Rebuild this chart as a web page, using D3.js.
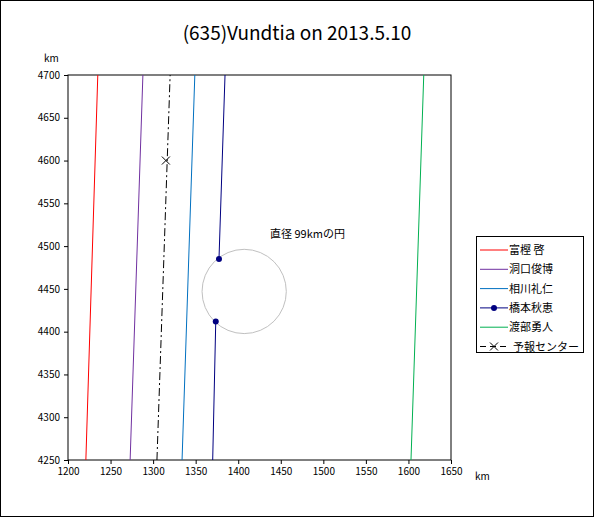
<!DOCTYPE html><html><head><meta charset="utf-8"><script src="https://cdn.jsdelivr.net/npm/d3@7"></script>
<style>body{margin:0;background:#fff}text{font-family:"Noto Sans CJK JP",sans-serif}</style></head><body><svg width="594" height="517"></svg><script>
const names=["富樫 啓","洞口俊博","相川礼仁","橋本秋恵","渡部勇人","予報センター"];
const colors=["#ff0000","#7030a0","#0070c0","#000080","#00b050","#000000"];
// each observer line: [x at y=4250, x at y=4700]
const lineX=[[1221,1235],[1273,1288],[1334,1349],[1370,1384.5],[1603,1618],[1304.5,1320]];
const lineY=[4250,4700];
const navyPts=[[1377.4,4485],[1373.6,4412]];
const center=[[1315,4600]];
const circle={cx:1407,cy:4447,r:49.5};
const xTicks=d3.range(1200,1651,50), yTicks=d3.range(4250,4701,50);
const svg=d3.select("svg");
svg.append("rect").attr("x",0.5).attr("y",0.5).attr("width",593).attr("height",516).attr("fill","#fff").attr("stroke","#000");
const x=d3.scaleLinear().domain([1200,1650]).range([68,451]);
const y=d3.scaleLinear().domain([4250,4700]).range([460,75]);
svg.append("rect").attr("x",68).attr("y",75).attr("width",383).attr("height",385).attr("fill","none").attr("stroke","#000");
const ax=svg.append("g").attr("transform","translate(0,460)").call(d3.axisBottom(x).tickValues(xTicks).tickFormat(d3.format("d")).tickSize(4).tickPadding(4));
const ay=svg.append("g").attr("transform","translate(68,0)").call(d3.axisLeft(y).tickValues(yTicks).tickFormat(d3.format("d")).tickSize(4).tickPadding(4));
[ax,ay].forEach(a=>{a.select(".domain").remove();a.selectAll("text").attr("font-size",10).attr("font-family","Noto Sans CJK JP");});
svg.append("text").attr("x",297).attr("y",40).attr("text-anchor","middle").attr("font-size",19).text("(635)Vundtia on 2013.5.10");
svg.append("text").attr("x",44).attr("y",62).attr("font-size",10).text("km");
svg.append("text").attr("x",475).attr("y",480).attr("font-size",10).text("km");
const g=svg.append("g");
g.append("circle").attr("cx",x(circle.cx)).attr("cy",y(circle.cy)).attr("r",x(circle.cx+circle.r)-x(circle.cx)).attr("fill","none").attr("stroke","#c0c0c0");
lineX.forEach((lx,i)=>{
  if(i===3){
    g.append("line").attr("x1",x(lx[1])).attr("y1",y(lineY[1])).attr("x2",x(navyPts[0][0])).attr("y2",y(navyPts[0][1])).attr("stroke",colors[i]);
    g.append("line").attr("x1",x(navyPts[1][0])).attr("y1",y(navyPts[1][1])).attr("x2",x(lx[0])).attr("y2",y(lineY[0])).attr("stroke",colors[i]);
    navyPts.forEach(p=>g.append("circle").attr("cx",x(p[0])).attr("cy",y(p[1])).attr("r",3).attr("fill",colors[i]));
  } else {
    g.append("line").attr("x1",x(lx[0])).attr("y1",y(lineY[0])).attr("x2",x(lx[1])).attr("y2",y(lineY[1])).attr("stroke",colors[i]).attr("stroke-dasharray",i===5?"8,3,2,3":null);
  }
});
center.forEach(c=>{const cx=x(c[0]),cy=y(c[1]);g.append("path").attr("d",`M${cx-4},${cy-4}L${cx+4},${cy+4}M${cx-4},${cy+4}L${cx+4},${cy-4}`).attr("stroke","#000");});
svg.append("text").attr("x",270).attr("y",238).attr("font-size",11).text("直径 99kmの円");
const lg=svg.append("g");
lg.append("rect").attr("x",476.5).attr("y",236.5).attr("width",107).attr("height",116).attr("fill","#fff").attr("stroke","#000");
names.forEach((n,i)=>{
  const yy=250+i*19.3;
  lg.append("line").attr("x1",480).attr("x2",508).attr("y1",yy).attr("y2",yy).attr("stroke",colors[i]).attr("stroke-dasharray",i===5?"6,4":null);
  if(i===3) lg.append("circle").attr("cx",494).attr("cy",yy).attr("r",3).attr("fill",colors[i]);
  if(i===5) lg.append("path").attr("d",`M490,${yy-4}L498,${yy+4}M490,${yy+4}L498,${yy-4}`).attr("stroke","#000");
  lg.append("text").attr("x",i===5?513:509).attr("y",yy+4).attr("font-size",11).text(n);
});
</script></body></html>
